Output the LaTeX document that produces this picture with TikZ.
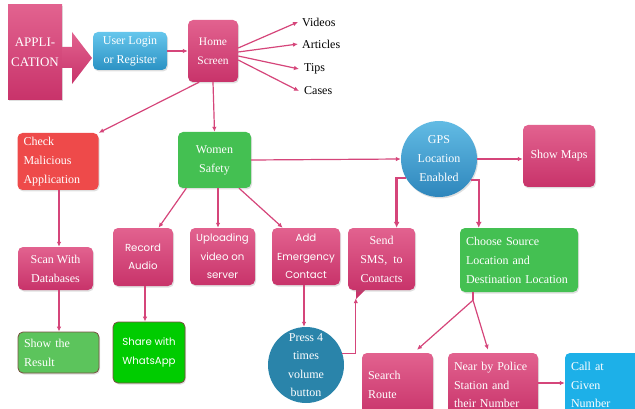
\documentclass[tikz,border=0pt]{standalone}
\usepackage{fontspec}
\setmainfont{Liberation Serif}
\newfontfamily\gothic{Poppins}
\usetikzlibrary{arrows.meta,calc,shadows}
\definecolor{pinkT}{HTML}{E2628F}
\definecolor{pinkB}{HTML}{C8336A}
\definecolor{lineC}{HTML}{D5457A}
\definecolor{blueT}{HTML}{66C6EC}
\definecolor{blueB}{HTML}{2B92C4}
\definecolor{gpsT}{HTML}{62BBE4}
\definecolor{gpsB}{HTML}{2E86BC}
\definecolor{redC}{HTML}{EE4A4A}
\definecolor{greenC}{HTML}{44C052}
\definecolor{resC}{HTML}{5CC45C}
\definecolor{waC}{HTML}{00CC00}
\definecolor{borderC}{HTML}{7A5040}
\definecolor{pressC}{HTML}{2A84AA}
\definecolor{callC}{HTML}{1DB0E8}
\begin{document}
\begin{tikzpicture}[x=1pt,y=-1pt,
  box/.style 2 args={rounded corners=5pt,minimum width=#1,minimum height=#2,inner sep=0pt,
     text=white,align=center,font=\fontsize{12}{19}\selectfont,
     drop shadow={opacity=0.25,shadow xshift=1pt,shadow yshift=-1.5pt}},
  lbox/.style 2 args={box={#1}{#2},text width=#1-12pt,align=left},
  pinkbox/.style={top color=pinkT,bottom color=pinkB},
  sans/.style={font=\gothic\fontsize{10.2}{18.5}\selectfont},
  lab/.style={anchor=west,inner sep=0pt,font=\fontsize{12}{14}\selectfont},
  arr/.style={draw=lineC,line width=1.2pt,-{Latex[length=5pt,width=4.5pt]}},
  thick arr/.style={draw=lineC,line width=2.4pt,-{Latex[length=6pt,width=6pt]}},
]
\useasboundingbox (0,0) rectangle (635,409);
\clip (0,0) rectangle (635,409);

% nodes
\node[pinkbox,box={54pt}{95pt},rounded corners=0pt,font=\fontsize{13}{19.5}\selectfont] (app) at (35,52.5) {APPLI-\\CATION};
\path[pinkbox] (62,47) -- (72,47) -- (72,32) -- (92,58) -- (72,84) -- (72,68) -- (62,68) -- cycle;
\node[box={74pt}{38pt},top color=blueT,bottom color=blueB] (login) at (130,51) {User Login\\or Register};
\node[box={50pt}{62pt},pinkbox,font=\fontsize{11.5}{19}\selectfont] (home) at (213,51) {Home\\Screen};
\node[lab] (videos) at (302,22) {Videos};
\node[lab] (articles) at (302,44) {Articles};
\node[lab] (tips) at (304,69) {Tips};
\node[lab] (cases) at (304,91) {Cases};

\node[lbox={81pt}{57pt},fill=redC] (check) at (58,161.5) {Check\\Malicious\\Application};
\node[box={73pt}{56pt},fill=greenC] (women) at (214.5,160) {Women\\Safety};
\node[circle,minimum size=76pt,inner sep=0pt,top color=gpsT,bottom color=gpsB,text=white,align=center,
      font=\fontsize{12}{19}\selectfont,drop shadow={opacity=0.25,shadow xshift=1pt,shadow yshift=-1.5pt}] (gps) at (439,159) {GPS\\Location\\Enabled};
\node[box={72pt}{62pt},pinkbox] (maps) at (559,156) {Show Maps};

\node[box={75pt}{43pt},pinkbox] (scan) at (55.5,268.5) {Scan With\\Databases};
\node[box={60pt}{58pt},pinkbox,sans] (record) at (143,257) {Record\\Audio};
\node[box={65pt}{57pt},pinkbox,sans] (upload) at (222.5,256.5) {Uploading\\video on\\server};
\node[box={68pt}{57pt},pinkbox,sans] (emerg) at (306,256.5) {Add\\Emergency\\Contact};
\path[fill=pinkB] (356,286) -- (356,299) -- (369,286) -- cycle;
\node[box={67pt}{62pt},pinkbox] (sms) at (381.5,259) {Send\\SMS,\ \ to\\Contacts};
\node[lbox={118pt}{64pt},fill=greenC] (choose) at (519,260) {Choose Source\\Location and\\Destination Location};

\node[lbox={81pt}{41pt},fill=resC,draw=borderC,line width=0.8pt] (result) at (58.5,352.5) {Show the\\Result};
\node[box={72pt}{61pt},fill=waC,draw=borderC,line width=0.8pt,sans] (wa) at (149,352.5) {Share with\\WhatsApp};
\node[circle,minimum size=76pt,inner sep=0pt,fill=pressC,text=white,align=center,
      font=\fontsize{12}{18.5}\selectfont] (press) at (306,365) {Press 4\\times\\volume\\button};
\node[lbox={71pt}{64pt},pinkbox] (search) at (397.5,385) {Search\\Route};
\node[lbox={90pt}{64pt},pinkbox,font=\fontsize{12}{18.5}\selectfont] (police) at (493,385) {Near by Police\\Station and\\their Number};
\node[lbox={75pt}{64pt},fill=callC,font=\fontsize{12}{18.5}\selectfont] (call) at (602.5,385) {Call at\\Given\\Number};

% connectors
\draw[arr] (login) -- (home);
\draw[arr] ($(home.east)+(0,-3)$) -- ($(videos.west)+(-4,0)$);
\draw[arr] ($(home.east)+(0,1)$) -- ($(articles.west)+(-4,0)$);
\draw[arr] ($(home.east)+(0,5)$) -- ($(tips.west)+(-5,0)$);
\draw[arr] ($(home.east)+(0,9)$) -- ($(cases.west)+(-5,0)$);
\draw[arr] (home.246) -- (check.north east);
\draw[arr] (home.south) -- (women.north);
\draw[arr] (women.east) -- (gps.west);
\draw[arr] (gps.east) -- (gps.east -| maps.west);
\draw[thick arr] (gps.210) -| ($(sms.north)!0.45!(sms.north east)$);
\draw[thick arr] (gps.327) -| ($(choose.north west)!0.16!(choose.north east)$);
\draw[arr] (women.225) -- (record.62);
\draw[arr] ($(women.south)+(3.5,0)$) -- ($(upload.north)+(-4.5,0)$);
\draw[arr] (women.311) -- (emerg.129);
\draw[arr] ($(check.south)+(1,0)$) -- ($(scan.north)+(3.5,0)$);
\draw[arr] ($(scan.south)+(3.5,0)$) -- ($(result.north)+(0.5,0)$);
\draw[arr] ($(record.south)+(2,0)$) -- ($(wa.north)+(-4,0)$);
\draw[arr] ($(emerg.south)+(-2,0)$) -- ($(press.north)+(-2,0)$);
\draw[arr] (press.18) -| ($(sms.south west)+(8,8)$);
\coordinate (split) at ($(choose.south)+(-46,8)$);
\draw[arr,-] ($(choose.south)+(-46,0)$) -- (split);
\draw[arr] (split) -- ($(search.north)+(19.5,-3)$);
\draw[arr] (split) -- ($(police.north)+(-5,-3)$);
\draw[arr] ($(police.east)+(0,-2)$) -- ($(call.west)+(0,-2)$);
\end{tikzpicture}
\end{document}
